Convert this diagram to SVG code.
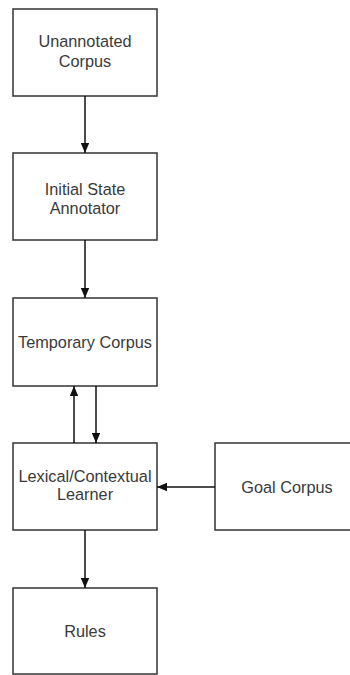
<svg xmlns="http://www.w3.org/2000/svg" width="350" height="675" viewBox="0 0 350 675">
<style>
.box{fill:#fff;stroke:#333;stroke-width:1.5}
.t{font-family:"Liberation Sans",Arial,sans-serif;font-size:16.3px;fill:#3a3a3a;text-anchor:middle}
.c{stroke:#111;stroke-width:1.5;fill:none}
</style>
<defs>
<marker id="ah" viewBox="0 0 10 8" refX="10" refY="4" markerWidth="10" markerHeight="8.5" markerUnits="userSpaceOnUse" orient="auto" preserveAspectRatio="none">
<path d="M0,0 L10,4 L0,8 z" fill="#111"/>
</marker>
</defs>
<rect width="350" height="675" fill="#fff"/>
<g id="n1"><rect class="box" x="13" y="9" width="144" height="87"/><text class="t" x="85" y="47">Unannotated</text><text class="t" x="85" y="67">Corpus</text></g>
<g id="n2"><rect class="box" x="13" y="153" width="144" height="87"/><text class="t" x="85" y="195">Initial State</text><text class="t" x="85" y="214">Annotator</text></g>
<g id="n3"><rect class="box" x="13" y="298" width="144" height="88"/><text class="t" x="85" y="348">Temporary Corpus</text></g>
<g id="n4"><rect class="box" x="13" y="443" width="144" height="87"/><text class="t" x="85" y="482">Lexical/Contextual</text><text class="t" x="85" y="500">Learner</text></g>
<g id="n5"><rect class="box" x="215" y="443" width="140" height="87"/><text class="t" x="287" y="493">Goal Corpus</text></g>
<g id="n6"><rect class="box" x="13" y="588" width="144" height="86"/><text class="t" x="85" y="637">Rules</text></g>
<g id="connectors">
<line class="c" x1="85" y1="96" x2="85" y2="153" marker-end="url(#ah)"/>
<line class="c" x1="85" y1="240" x2="85" y2="298" marker-end="url(#ah)"/>
<line class="c" x1="74" y1="443" x2="74" y2="386" marker-end="url(#ah)"/>
<line class="c" x1="96" y1="386" x2="96" y2="443" marker-end="url(#ah)"/>
<line class="c" x1="215" y1="487" x2="157" y2="487" marker-end="url(#ah)"/>
<line class="c" x1="85" y1="530" x2="85" y2="588" marker-end="url(#ah)"/>
</g>
</svg>
